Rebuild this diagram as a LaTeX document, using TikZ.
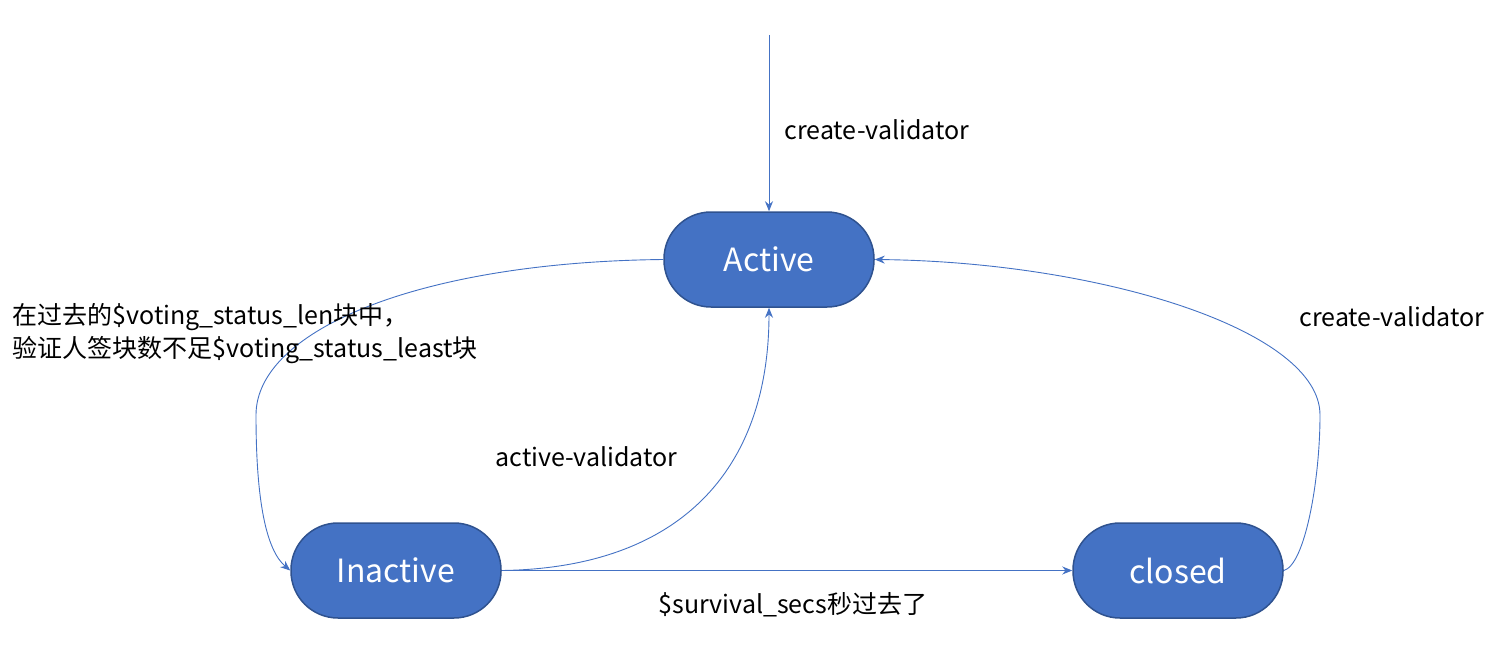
\documentclass[tikz,border=0pt]{standalone}
\usepackage{fontspec}
\setmainfont{Noto Sans CJK SC}
\usetikzlibrary{arrows.meta}
\definecolor{stateblue}{HTML}{4472C4}
\definecolor{stateedge}{HTML}{2F528F}
\tikzset{
  state/.style={draw=stateedge, line width=1.5pt, fill=stateblue, text=white,
    minimum width=210pt, minimum height=95pt, rounded corners=47pt, font=\fontsize{32}{38}\selectfont},
  trans/.style={draw=stateblue, line width=0.9pt},
  lbl/.style={font=\fontsize{25}{33}\selectfont, align=left}
}
\begin{document}
\begin{tikzpicture}[>={Stealth[length=10pt,width=8pt]}, x=1pt, y=-1pt]
\useasboundingbox (0,0) rectangle (1507,661);
\node[state] (active) at (769,259.5) {Active};
\node[state] (inactive) at (396,570.5) {Inactive};
\node[state] (closed) at (1178,570.5) {closed};
\coordinate (start) at (769,35);
\draw[trans,->] (start) -- (active.north);
\draw[trans,->] (active.west) .. controls (420,262) and (256,330) .. (256,415)
  .. controls (256,500) and (266,550) .. (inactive.west);
\draw[trans,->] (inactive.east) .. controls (680,568) and (769,470) .. (active.south);
\draw[trans,->] (inactive.east) -- (closed.west);
\draw[trans,->] (closed.east) .. controls (1305,565) and (1320,480) .. (1320,415)
  .. controls (1320,330) and (1100,262) .. (active.east);
\node[lbl, anchor=west] (l1) at (781,130) {create-validator};
\node[lbl, anchor=west] (l2) at (1296,317) {create-validator};
\node[lbl, anchor=west] (l3) at (492,457) {active-validator};
\node[lbl, anchor=west] (l4) at (655,605) {\$survival\_secs秒过去了};
\node[lbl, anchor=west] (l5) at (9,334) {在过去的\$voting\_status\_len块中，\\验证人签块数不足\$voting\_status\_least块};
\end{tikzpicture}
\end{document}
